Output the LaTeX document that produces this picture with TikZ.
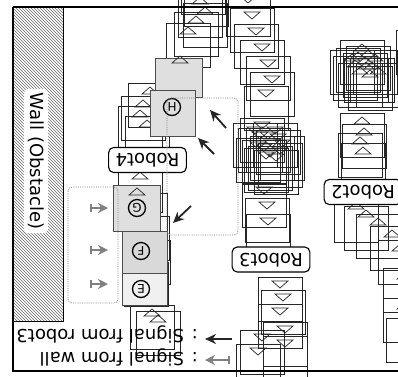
\documentclass[tikz,border=0pt]{standalone}
\usepackage{fontspec}
\setmainfont{DejaVu Sans}
\usetikzlibrary{patterns,arrows.meta}
\tikzset{
  pose/.style={draw=black!85, line width=.7pt},
  up pose/.pic={\draw[pose] (-22,-22) rectangle (22,22);
    \draw[pose] (-8,-11) -- (8,-11) -- (0,-18) -- cycle;},
  down pose/.pic={\draw[pose] (-22,-22) rectangle (22,22);
    \draw[pose] (-8,-18) -- (8,-18) -- (0,-11) -- cycle;},
  robot/.style={draw, line width=1.1pt, rounded corners=5pt, fill=white, rotate=180,
    font=\fontsize{18}{20}\selectfont, text height=13pt, text depth=0pt,
    inner xsep=7pt, inner ysep=6pt},
  spot/.style={circle, draw, line width=1.3pt, minimum size=17pt, inner sep=0pt,
    rotate=180, font=\fontsize{12}{12}\selectfont},
  keep/.style={draw=black!70, line width=.8pt},
  wallsig/.style={gray, line width=1.8pt, arrows={Bar[width=8pt]-Stealth[length=10pt,width=10pt]}},
  robsig/.style={black!85, line width=1.8pt, arrows={-Stealth[length=11pt,width=10pt]}},
  area/.style={gray, densely dotted, line width=.8pt, rounded corners=4pt}
}
\begin{document}
\begin{tikzpicture}[x=1pt, y=-1pt]
  \useasboundingbox (0,0) rectangle (398,376);
  \clip (0,0) rectangle (398,376);
  % wall
  \fill[pattern=north west lines, pattern color=black!60] (13.5,8) rectangle (63,321);
  \draw[line width=.9pt] (63,8) -- (63,321) -- (13.5,321);
  \node[fill=white, rounded corners=4pt, rotate=-90, inner sep=4pt,
    font=\fontsize{18}{20}\selectfont] (wall) at (36,161) {Wall (Obstacle)};
  % robot3 trail
  \foreach \x/\y in {248/14, 252/30, 256/46, 262/62, 268/78, 272/94, 266/108}
    \pic at (\x,\y) {down pose};
  \foreach \x/\y in {262/140, 268/150, 275/145, 258/160, 280/165, 266/170, 272/158,
      260/150, 278/152, 270/168, 264/162, 276/172, 255/145, 282/158}
    \pic at (\x,\y) {down pose};
  \foreach \x/\y in {264/205, 267/220, 268/236}
    \pic at (\x,\y) {down pose};
  \foreach \x/\y in {280/299, 283/312, 280/326, 285/344, 285/358, 262/352, 258/366}
    \pic at (\x,\y) {down pose};
  % robot2 trail
  \foreach \x/\y in {418/52, 358/70, 365/75, 372/80, 360/85, 368/68, 375/72, 355/78,
      370/88, 362/62, 378/85, 366/80, 352/72}
    \pic at (\x,\y) {up pose};
  \foreach \x/\y in {362/135, 364/146, 360/155, 363/165}
    \pic at (\x,\y) {up pose};
  \foreach \x/\y in {356/220, 366/228, 378/236, 392/248, 400/262, 405/290, 405/320, 408/340}
    \pic at (\x,\y) {up pose};
  % robot4 trail
  \foreach \x/\y in {203/-8, 206/4, 200/15, 205/25, 196/34, 188/45}
    \pic at (\x,\y) {up pose};
  \foreach \x/\y in {150/105, 143/118, 140/128, 147/138}
    \pic at (\x,\y) {up pose};
  \foreach \x/\y in {140/190, 145/215, 147/238, 148/262, 146/284, 152/327, 158/333}
    \pic at (\x,\y) {up pose};
  % kept positions
  \draw[keep, fill=gray!25] (155,58) rectangle (202,97);
  \draw[pose] (172,63) -- (188,63) -- (180,56) -- cycle;
  \draw[keep, fill=gray!25] (150,90) rectangle (195,136);
  \draw[keep, fill=gray!25] (113,185) rectangle (160,231);
  \draw[pose] (129,195) -- (145,195) -- (137,188) -- cycle;
  \draw[keep, fill=gray!30] (122,231) rectangle (167,273);
  \draw[keep, fill=gray!12] (122,273) rectangle (167,305);
  \node[spot] (H) at (172,107) {H};
  \node[spot] (G) at (137,208) {G};
  \node[spot] (F) at (141,251) {F};
  \node[spot] (E) at (141,289) {E};
  % robot labels
  \node[robot] (r4) at (147.5,160) {Robot4};
  \node[robot] (r3) at (271,259.5) {Robot3};
  \node[robot] (r2) at (363,192) {Robot2};
  % signal areas
  \draw[area] (68,187) rectangle (118,303);
  \draw[area] (167,98) rectangle (238,235);
  \foreach \y in {208,250,284}
    \draw[wallsig] (90,\y) -- (108,\y);
  \draw[robsig] (191,206) -- (173,223);
  \draw[robsig] (226,128) -- (210,110);
  \draw[robsig] (214,154) -- (198,138);
  % legend
  \draw[robsig] (232,339) -- (205,339);
  \draw[wallsig] (230,360) -- (205,360);
  \node[rotate=180, anchor=west, inner sep=0pt, font=\fontsize{18}{20}\selectfont]
    (leg3) at (198,334) {: Signal from robot3};
  \node[rotate=180, anchor=west, inner sep=0pt, font=\fontsize{18}{20}\selectfont]
    (legw) at (198,357) {: Signal from wall};
  % frame
  \draw[line width=2pt] (12.5,7) -- (420,7);
  \draw[line width=2pt] (420,371) -- (12.5,371) -- (12.5,7);
\end{tikzpicture}
\end{document}
